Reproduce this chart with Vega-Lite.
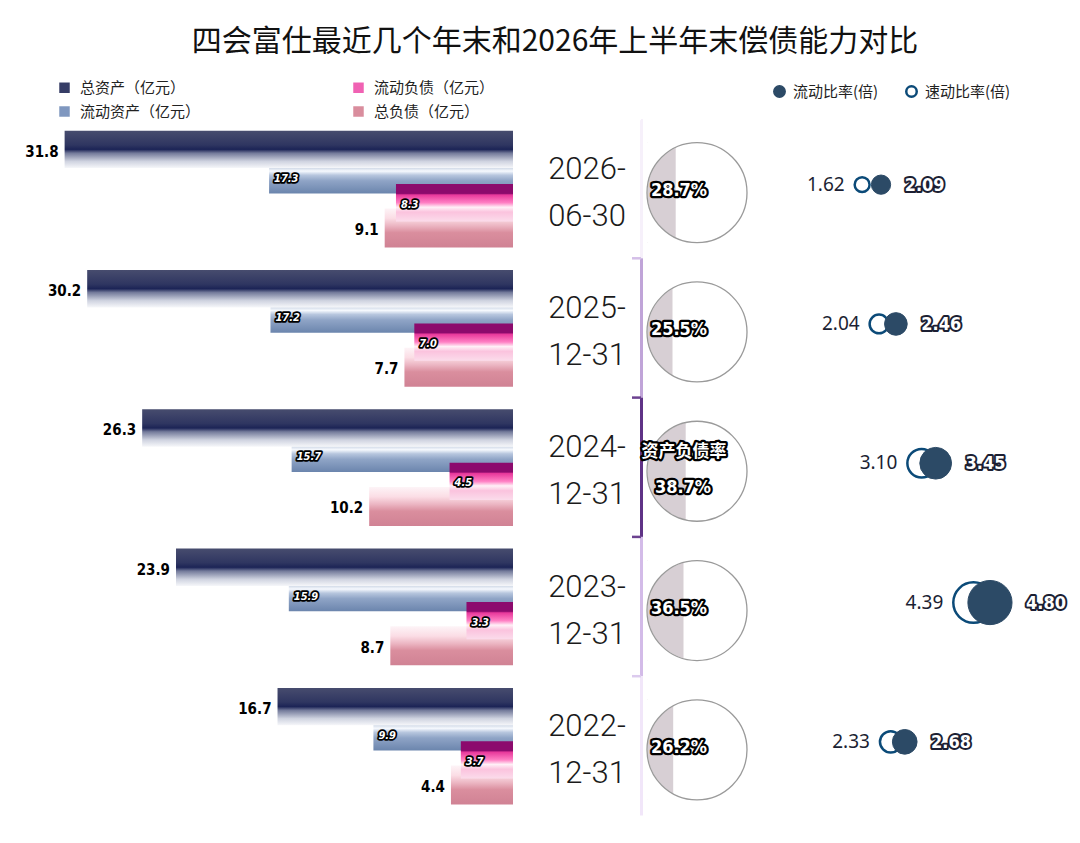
{
  "$schema": "https://vega.github.io/schema/vega-lite/v6.json",
  "width": 1080,
  "height": 843,
  "padding": 0,
  "autosize": {"type": "none"},
  "background": "white",
  "config": {"view": {"stroke": null}},
  "title": {"text": "四会富仕最近几个年末和2026年上半年末偿债能力对比", "font": "Noto Sans CJK SC", "fontSize": 30, "fontWeight": "normal", "color": "#111111", "anchor": "middle", "dx": 15, "dy": 57, "offset": 0},
  "data": {"values": [
    {"period": "2026-06-30", "date_label": "2026-\n06-30", "total_assets": 31.8, "current_assets": 17.3, "current_liab": 8.3, "total_liab": 9.1, "debt_ratio": 0.287, "current_ratio": 2.09, "quick_ratio": 1.62},
    {"period": "2025-12-31", "date_label": "2025-\n12-31", "total_assets": 30.2, "current_assets": 17.2, "current_liab": 7.0, "total_liab": 7.7, "debt_ratio": 0.255, "current_ratio": 2.46, "quick_ratio": 2.04},
    {"period": "2024-12-31", "date_label": "2024-\n12-31", "total_assets": 26.3, "current_assets": 15.7, "current_liab": 4.5, "total_liab": 10.2, "debt_ratio": 0.387, "current_ratio": 3.45, "quick_ratio": 3.10},
    {"period": "2023-12-31", "date_label": "2023-\n12-31", "total_assets": 23.9, "current_assets": 15.9, "current_liab": 3.3, "total_liab": 8.7, "debt_ratio": 0.365, "current_ratio": 4.80, "quick_ratio": 4.39},
    {"period": "2022-12-31", "date_label": "2022-\n12-31", "total_assets": 16.7, "current_assets": 9.9, "current_liab": 3.7, "total_liab": 4.4, "debt_ratio": 0.262, "current_ratio": 2.68, "quick_ratio": 2.33}
  ]},
  "resolve": {"scale": {"x": "independent", "fill": "independent", "stroke": "independent"}},
  "layer": [
    {
      "data": {"values": [{"s": "总资产（亿元）"}, {"s": "流动资产（亿元）"}, {"s": "流动负债（亿元）"}, {"s": "总负债（亿元）"}]},
      "mark": {"type": "square", "opacity": 0},
      "encoding": {
        "color": {"field": "s", "type": "nominal", "sort": null,
          "scale": {"domain": ["总资产（亿元）", "流动资产（亿元）", "流动负债（亿元）", "总负债（亿元）"], "range": ["#363d66", "#7f97bf", "#f062b3", "#d98d9d"]},
          "legend": {"title": null, "orient": "none", "legendX": 57, "legendY": 80, "columns": 2, "columnPadding": 150, "rowPadding": 8, "symbolType": "square", "symbolSize": 110, "symbolOpacity": 1, "labelFont": "Noto Sans CJK SC", "labelFontSize": 15, "labelColor": "#222222", "labelOffset": 8, "labelLimit": 300}
        }
      }
    },
    {
      "mark": {"type": "bar", "height": 37.4, "yOffset": -39.25, "color": {"gradient": "linear", "x1": 0, "y1": 0, "x2": 0, "y2": 1, "stops": [{"offset": 0, "color": "#474c6e"}, {"offset": 0.38, "color": "#2f3661"}, {"offset": 0.5, "color": "#1c2456"}, {"offset": 0.6, "color": "#737a9a"}, {"offset": 0.82, "color": "#cfd3e0"}, {"offset": 1, "color": "#f6f7fa"}]}},
      "encoding": {
        "x": {"field": "total_assets", "type": "quantitative", "scale": {"domain": [0, 30], "range": [513, 90], "zero": false, "nice": false}, "axis": null},
        "x2": {"datum": 0},
        "y": {"field": "period", "type": "nominal", "sort": null, "axis": null, "scale": {"type": "band", "domain": ["2026-06-30", "2025-12-31", "2024-12-31", "2023-12-31", "2022-12-31"], "range": [119, 815.5], "paddingInner": 0, "paddingOuter": 0}}
      }
    },
    {
      "mark": {"type": "bar", "height": 25.3, "yOffset": -7.9, "color": {"gradient": "linear", "x1": 0, "y1": 0, "x2": 0, "y2": 1, "stops": [{"offset": 0, "color": "#d3dbe8"}, {"offset": 0.12, "color": "#f6f9fe"}, {"offset": 0.28, "color": "#b7c6de"}, {"offset": 0.5, "color": "#8fa4c6"}, {"offset": 1, "color": "#6b85ad"}]}},
      "encoding": {
        "x": {"field": "current_assets", "type": "quantitative", "scale": {"domain": [0, 30], "range": [513, 90], "zero": false, "nice": false}, "axis": null},
        "x2": {"datum": 0},
        "y": {"field": "period", "type": "nominal", "sort": null, "axis": null, "scale": {"type": "band", "domain": ["2026-06-30", "2025-12-31", "2024-12-31", "2023-12-31", "2022-12-31"], "range": [119, 815.5], "paddingInner": 0, "paddingOuter": 0}}
      }
    },
    {
      "mark": {"type": "bar", "height": 39, "yOffset": 39.25, "color": {"gradient": "linear", "x1": 0, "y1": 0, "x2": 0, "y2": 1, "stops": [{"offset": 0, "color": "#fdf4f7"}, {"offset": 0.25, "color": "#fbdde5"}, {"offset": 0.45, "color": "#ebb4c1"}, {"offset": 0.62, "color": "#da8e9e"}, {"offset": 1, "color": "#d08294"}]}},
      "encoding": {
        "x": {"field": "total_liab", "type": "quantitative", "scale": {"domain": [0, 30], "range": [513, 90], "zero": false, "nice": false}, "axis": null},
        "x2": {"datum": 0},
        "y": {"field": "period", "type": "nominal", "sort": null, "axis": null, "scale": {"type": "band", "domain": ["2026-06-30", "2025-12-31", "2024-12-31", "2023-12-31", "2022-12-31"], "range": [119, 815.5], "paddingInner": 0, "paddingOuter": 0}}
      }
    },
    {
      "mark": {"type": "bar", "height": 37.3, "yOffset": 14.1, "color": {"gradient": "linear", "x1": 0, "y1": 0, "x2": 0, "y2": 1, "stops": [{"offset": 0, "color": "#8c0a6d"}, {"offset": 0.25, "color": "#8c0a6d"}, {"offset": 0.29, "color": "#e8389b"}, {"offset": 0.5, "color": "#ff80c4"}, {"offset": 0.62, "color": "#fff0f7"}, {"offset": 0.75, "color": "#fbc3de"}, {"offset": 1, "color": "#fbdceb"}]}},
      "encoding": {
        "x": {"field": "current_liab", "type": "quantitative", "scale": {"domain": [0, 30], "range": [513, 90], "zero": false, "nice": false}, "axis": null},
        "x2": {"datum": 0},
        "y": {"field": "period", "type": "nominal", "sort": null, "axis": null, "scale": {"type": "band", "domain": ["2026-06-30", "2025-12-31", "2024-12-31", "2023-12-31", "2022-12-31"], "range": [119, 815.5], "paddingInner": 0, "paddingOuter": 0}}
      }
    },
    {
      "mark": {"type": "text", "align": "right", "baseline": "middle", "dx": -6, "yOffset": -37, "font": "DejaVu Sans Condensed, sans-serif", "fontWeight": "bold", "fontSize": 15, "color": "#000000"},
      "encoding": {
        "x": {"field": "total_assets", "type": "quantitative", "scale": {"domain": [0, 30], "range": [513, 90], "zero": false, "nice": false}, "axis": null},
        "y": {"field": "period", "type": "nominal", "sort": null, "axis": null, "scale": {"type": "band", "domain": ["2026-06-30", "2025-12-31", "2024-12-31", "2023-12-31", "2022-12-31"], "range": [119, 815.5], "paddingInner": 0, "paddingOuter": 0}},
        "text": {"field": "total_assets", "type": "quantitative", "format": ".1f"}
      }
    },
    {
      "mark": {"type": "text", "align": "right", "baseline": "middle", "dx": -6, "yOffset": 41, "font": "DejaVu Sans Condensed, sans-serif", "fontWeight": "bold", "fontSize": 15, "color": "#000000"},
      "encoding": {
        "x": {"field": "total_liab", "type": "quantitative", "scale": {"domain": [0, 30], "range": [513, 90], "zero": false, "nice": false}, "axis": null},
        "y": {"field": "period", "type": "nominal", "sort": null, "axis": null, "scale": {"type": "band", "domain": ["2026-06-30", "2025-12-31", "2024-12-31", "2023-12-31", "2022-12-31"], "range": [119, 815.5], "paddingInner": 0, "paddingOuter": 0}},
        "text": {"field": "total_liab", "type": "quantitative", "format": ".1f"}
      }
    },
    {
      "mark": {"type": "text", "align": "left", "baseline": "middle", "dx": 5, "yOffset": -10, "font": "DejaVu Sans Condensed, sans-serif", "fontStyle": "italic", "fontWeight": "bold", "fontSize": 11, "fill": "#000000", "stroke": "#000000", "strokeWidth": 3.5, "strokeJoin": "round"},
      "encoding": {
        "x": {"field": "current_assets", "type": "quantitative", "scale": {"domain": [0, 30], "range": [513, 90], "zero": false, "nice": false}, "axis": null},
        "y": {"field": "period", "type": "nominal", "sort": null, "axis": null, "scale": {"type": "band", "domain": ["2026-06-30", "2025-12-31", "2024-12-31", "2023-12-31", "2022-12-31"], "range": [119, 815.5], "paddingInner": 0, "paddingOuter": 0}},
        "text": {"field": "current_assets", "type": "quantitative", "format": ".1f"}
      }
    },
    {
      "mark": {"type": "text", "align": "left", "baseline": "middle", "dx": 5, "yOffset": -10, "font": "DejaVu Sans Condensed, sans-serif", "fontStyle": "italic", "fontWeight": "bold", "fontSize": 11, "fill": "#ffffff"},
      "encoding": {
        "x": {"field": "current_assets", "type": "quantitative", "scale": {"domain": [0, 30], "range": [513, 90], "zero": false, "nice": false}, "axis": null},
        "y": {"field": "period", "type": "nominal", "sort": null, "axis": null, "scale": {"type": "band", "domain": ["2026-06-30", "2025-12-31", "2024-12-31", "2023-12-31", "2022-12-31"], "range": [119, 815.5], "paddingInner": 0, "paddingOuter": 0}},
        "text": {"field": "current_assets", "type": "quantitative", "format": ".1f"}
      }
    },
    {
      "mark": {"type": "text", "align": "left", "baseline": "middle", "dx": 5, "yOffset": 16, "font": "DejaVu Sans Condensed, sans-serif", "fontStyle": "italic", "fontWeight": "bold", "fontSize": 11, "fill": "#000000", "stroke": "#000000", "strokeWidth": 3.5, "strokeJoin": "round"},
      "encoding": {
        "x": {"field": "current_liab", "type": "quantitative", "scale": {"domain": [0, 30], "range": [513, 90], "zero": false, "nice": false}, "axis": null},
        "y": {"field": "period", "type": "nominal", "sort": null, "axis": null, "scale": {"type": "band", "domain": ["2026-06-30", "2025-12-31", "2024-12-31", "2023-12-31", "2022-12-31"], "range": [119, 815.5], "paddingInner": 0, "paddingOuter": 0}},
        "text": {"field": "current_liab", "type": "quantitative", "format": ".1f"}
      }
    },
    {
      "mark": {"type": "text", "align": "left", "baseline": "middle", "dx": 5, "yOffset": 16, "font": "DejaVu Sans Condensed, sans-serif", "fontStyle": "italic", "fontWeight": "bold", "fontSize": 11, "fill": "#ffffff"},
      "encoding": {
        "x": {"field": "current_liab", "type": "quantitative", "scale": {"domain": [0, 30], "range": [513, 90], "zero": false, "nice": false}, "axis": null},
        "y": {"field": "period", "type": "nominal", "sort": null, "axis": null, "scale": {"type": "band", "domain": ["2026-06-30", "2025-12-31", "2024-12-31", "2023-12-31", "2022-12-31"], "range": [119, 815.5], "paddingInner": 0, "paddingOuter": 0}},
        "text": {"field": "current_liab", "type": "quantitative", "format": ".1f"}
      }
    },
    {
      "mark": {"type": "bar", "height": 100, "yOffset": 4, "color": "#d7cfd4"},
      "encoding": {
        "x": {"field": "debt_ratio", "type": "quantitative", "scale": {"domain": [0, 1], "range": [647, 747], "zero": false, "nice": false}, "axis": null},
        "x2": {"datum": 0},
        "y": {"field": "period", "type": "nominal", "sort": null, "axis": null, "scale": {"type": "band", "domain": ["2026-06-30", "2025-12-31", "2024-12-31", "2023-12-31", "2022-12-31"], "range": [119, 815.5], "paddingInner": 0, "paddingOuter": 0}}
      }
    },
    {
      "mark": {"type": "point", "shape": "circle", "filled": false, "size": 14400, "stroke": "#ffffff", "strokeWidth": 21, "opacity": 1, "yOffset": 4},
      "encoding": {
        "x": {"datum": 0.5, "type": "quantitative", "scale": {"domain": [0, 1], "range": [647, 747], "zero": false, "nice": false}, "axis": null},
        "y": {"field": "period", "type": "nominal", "sort": null, "axis": null, "scale": {"type": "band", "domain": ["2026-06-30", "2025-12-31", "2024-12-31", "2023-12-31", "2022-12-31"], "range": [119, 815.5], "paddingInner": 0, "paddingOuter": 0}}
      }
    },
    {
      "mark": {"type": "point", "shape": "circle", "filled": false, "size": 10000, "stroke": "#9a9a9a", "strokeWidth": 1.3, "opacity": 1, "yOffset": 4},
      "encoding": {
        "x": {"datum": 0.5, "type": "quantitative", "scale": {"domain": [0, 1], "range": [647, 747], "zero": false, "nice": false}, "axis": null},
        "y": {"field": "period", "type": "nominal", "sort": null, "axis": null, "scale": {"type": "band", "domain": ["2026-06-30", "2025-12-31", "2024-12-31", "2023-12-31", "2022-12-31"], "range": [119, 815.5], "paddingInner": 0, "paddingOuter": 0}}
      }
    },
    {
      "mark": {"type": "text", "align": "center", "baseline": "middle", "yOffset": -19, "lineBreak": "\n", "lineHeight": 47, "font": "Roboto", "fontWeight": 300, "fontSize": 31, "color": "#1a1a1a"},
      "encoding": {
        "x": {"datum": 0.5, "type": "quantitative", "scale": {"domain": [0, 1], "range": [540, 634], "zero": false, "nice": false}, "axis": null},
        "y": {"field": "period", "type": "nominal", "sort": null, "axis": null, "scale": {"type": "band", "domain": ["2026-06-30", "2025-12-31", "2024-12-31", "2023-12-31", "2022-12-31"], "range": [119, 815.5], "paddingInner": 0, "paddingOuter": 0}},
        "text": {"field": "date_label", "type": "nominal"}
      }
    },
    {
      "mark": {"type": "bar"},
      "encoding": {
        "x": {"datum": 0, "type": "quantitative", "scale": {"domain": [0, 1], "range": [640, 643], "zero": false, "nice": false}, "axis": null},
        "x2": {"datum": 1},
        "y": {"field": "period", "type": "nominal", "sort": null, "axis": null, "scale": {"type": "band", "domain": ["2026-06-30", "2025-12-31", "2024-12-31", "2023-12-31", "2022-12-31"], "range": [119, 815.5], "paddingInner": 0, "paddingOuter": 0}},
        "fill": {"field": "period", "type": "nominal", "sort": null, "scale": {"domain": ["2026-06-30", "2025-12-31", "2024-12-31", "2023-12-31", "2022-12-31"], "range": ["#f6f0fa", "#c0a4d8", "#5f3286", "#d3bbe8", "#f1e6f9"]}, "legend": null}
      }
    },
    {
      "mark": {"type": "rule", "strokeWidth": 2.5},
      "encoding": {
        "x": {"datum": 0, "type": "quantitative", "scale": {"domain": [0, 1], "range": [632, 641], "zero": false, "nice": false}, "axis": null},
        "x2": {"datum": 1},
        "y": {"field": "period", "type": "nominal", "sort": null, "bandPosition": 0, "axis": null, "scale": {"type": "band", "domain": ["2026-06-30", "2025-12-31", "2024-12-31", "2023-12-31", "2022-12-31"], "range": [119, 815.5], "paddingInner": 0, "paddingOuter": 0}},
        "stroke": {"field": "period", "type": "nominal", "sort": null, "scale": {"domain": ["2026-06-30", "2025-12-31", "2024-12-31", "2023-12-31", "2022-12-31"], "range": ["#ffffff", "#d4bfe8", "#6c4290", "#6c4290", "#dccbee"]}, "legend": null}
      }
    },
    {
      "transform": [{"filter": "datum.period !== '2024-12-31'"}],
      "mark": {"type": "text", "align": "center", "baseline": "middle", "yOffset": 2, "font": "DejaVu Sans Condensed, sans-serif", "fontWeight": "bold", "fontSize": 18, "fill": "#000000", "stroke": "#000000", "strokeWidth": 4.5, "strokeJoin": "round"},
      "encoding": {
        "x": {"datum": 0.32, "type": "quantitative", "scale": {"domain": [0, 1], "range": [647, 747], "zero": false, "nice": false}, "axis": null},
        "y": {"field": "period", "type": "nominal", "sort": null, "axis": null, "scale": {"type": "band", "domain": ["2026-06-30", "2025-12-31", "2024-12-31", "2023-12-31", "2022-12-31"], "range": [119, 815.5], "paddingInner": 0, "paddingOuter": 0}},
        "text": {"field": "debt_ratio", "type": "quantitative", "format": ".1%"}
      }
    },
    {
      "transform": [{"filter": "datum.period !== '2024-12-31'"}],
      "mark": {"type": "text", "align": "center", "baseline": "middle", "yOffset": 2, "font": "DejaVu Sans Condensed, sans-serif", "fontWeight": "bold", "fontSize": 18, "fill": "#ffffff"},
      "encoding": {
        "x": {"datum": 0.32, "type": "quantitative", "scale": {"domain": [0, 1], "range": [647, 747], "zero": false, "nice": false}, "axis": null},
        "y": {"field": "period", "type": "nominal", "sort": null, "axis": null, "scale": {"type": "band", "domain": ["2026-06-30", "2025-12-31", "2024-12-31", "2023-12-31", "2022-12-31"], "range": [119, 815.5], "paddingInner": 0, "paddingOuter": 0}},
        "text": {"field": "debt_ratio", "type": "quantitative", "format": ".1%"}
      }
    },
    {
      "transform": [{"filter": "datum.period === '2024-12-31'"}],
      "mark": {"type": "text", "align": "center", "baseline": "middle", "yOffset": 21, "font": "DejaVu Sans Condensed, sans-serif", "fontWeight": "bold", "fontSize": 18, "fill": "#000000", "stroke": "#000000", "strokeWidth": 4.5, "strokeJoin": "round"},
      "encoding": {
        "x": {"datum": 0.36, "type": "quantitative", "scale": {"domain": [0, 1], "range": [647, 747], "zero": false, "nice": false}, "axis": null},
        "y": {"field": "period", "type": "nominal", "sort": null, "axis": null, "scale": {"type": "band", "domain": ["2026-06-30", "2025-12-31", "2024-12-31", "2023-12-31", "2022-12-31"], "range": [119, 815.5], "paddingInner": 0, "paddingOuter": 0}},
        "text": {"field": "debt_ratio", "type": "quantitative", "format": ".1%"}
      }
    },
    {
      "transform": [{"filter": "datum.period === '2024-12-31'"}],
      "mark": {"type": "text", "align": "center", "baseline": "middle", "yOffset": 21, "font": "DejaVu Sans Condensed, sans-serif", "fontWeight": "bold", "fontSize": 18, "fill": "#ffffff"},
      "encoding": {
        "x": {"datum": 0.36, "type": "quantitative", "scale": {"domain": [0, 1], "range": [647, 747], "zero": false, "nice": false}, "axis": null},
        "y": {"field": "period", "type": "nominal", "sort": null, "axis": null, "scale": {"type": "band", "domain": ["2026-06-30", "2025-12-31", "2024-12-31", "2023-12-31", "2022-12-31"], "range": [119, 815.5], "paddingInner": 0, "paddingOuter": 0}},
        "text": {"field": "debt_ratio", "type": "quantitative", "format": ".1%"}
      }
    },
    {
      "transform": [{"filter": "datum.period === '2024-12-31'"}],
      "mark": {"type": "text", "align": "center", "baseline": "middle", "yOffset": -15, "font": "Noto Sans CJK SC", "fontWeight": "bold", "fontSize": 17, "fill": "#000000", "stroke": "#000000", "strokeWidth": 4.5, "strokeJoin": "round"},
      "encoding": {
        "x": {"datum": 0.37, "type": "quantitative", "scale": {"domain": [0, 1], "range": [647, 747], "zero": false, "nice": false}, "axis": null},
        "y": {"field": "period", "type": "nominal", "sort": null, "axis": null, "scale": {"type": "band", "domain": ["2026-06-30", "2025-12-31", "2024-12-31", "2023-12-31", "2022-12-31"], "range": [119, 815.5], "paddingInner": 0, "paddingOuter": 0}},
        "text": {"datum": "资产负债率"}
      }
    },
    {
      "transform": [{"filter": "datum.period === '2024-12-31'"}],
      "mark": {"type": "text", "align": "center", "baseline": "middle", "yOffset": -15, "font": "Noto Sans CJK SC", "fontWeight": "bold", "fontSize": 17, "fill": "#ffffff"},
      "encoding": {
        "x": {"datum": 0.37, "type": "quantitative", "scale": {"domain": [0, 1], "range": [647, 747], "zero": false, "nice": false}, "axis": null},
        "y": {"field": "period", "type": "nominal", "sort": null, "axis": null, "scale": {"type": "band", "domain": ["2026-06-30", "2025-12-31", "2024-12-31", "2023-12-31", "2022-12-31"], "range": [119, 815.5], "paddingInner": 0, "paddingOuter": 0}},
        "text": {"datum": "资产负债率"}
      }
    },
    {
      "mark": {"type": "point", "shape": "circle", "filled": false, "strokeWidth": 2.5, "opacity": 1, "yOffset": -4},
      "encoding": {
        "x": {"field": "quick_ratio", "type": "quantitative", "scale": {"domain": [0, 5], "range": [797, 998], "zero": false, "nice": false}, "axis": null},
        "y": {"field": "period", "type": "nominal", "sort": null, "axis": null, "scale": {"type": "band", "domain": ["2026-06-30", "2025-12-31", "2024-12-31", "2023-12-31", "2022-12-31"], "range": [119, 815.5], "paddingInner": 0, "paddingOuter": 0}},
        "size": {"field": "quick_ratio", "type": "quantitative", "scale": {"type": "pow", "exponent": 2, "domain": [0, 5], "range": [0, 2116], "zero": true}, "legend": null},
        "stroke": {"datum": "速动比率(倍)", "scale": {"domain": ["速动比率(倍)"], "range": ["#0b4a78"]},
          "legend": {"title": null, "orient": "none", "legendX": 904, "legendY": 84, "symbolType": "circle", "symbolSize": 110, "symbolStrokeWidth": 2.5, "symbolOpacity": 1, "labelFont": "Noto Sans CJK SC", "labelFontSize": 15, "labelColor": "#222222", "labelOffset": 6, "labelLimit": 300}}
      }
    },
    {
      "mark": {"type": "point", "shape": "circle", "filled": true, "stroke": "#2c4a66", "strokeWidth": 1, "opacity": 1, "yOffset": -4},
      "encoding": {
        "x": {"field": "current_ratio", "type": "quantitative", "scale": {"domain": [0, 5], "range": [797, 998], "zero": false, "nice": false}, "axis": null},
        "y": {"field": "period", "type": "nominal", "sort": null, "axis": null, "scale": {"type": "band", "domain": ["2026-06-30", "2025-12-31", "2024-12-31", "2023-12-31", "2022-12-31"], "range": [119, 815.5], "paddingInner": 0, "paddingOuter": 0}},
        "size": {"field": "current_ratio", "type": "quantitative", "scale": {"type": "pow", "exponent": 2, "domain": [0, 5], "range": [0, 2116], "zero": true}, "legend": null},
        "fill": {"datum": "流动比率(倍)", "scale": {"domain": ["流动比率(倍)"], "range": ["#2c4a66"]},
          "legend": {"title": null, "orient": "none", "legendX": 772, "legendY": 84, "symbolType": "circle", "symbolSize": 130, "symbolOpacity": 1, "labelFont": "Noto Sans CJK SC", "labelFontSize": 15, "labelColor": "#222222", "labelOffset": 6, "labelLimit": 300}}
      }
    },
    {
      "mark": {"type": "text", "align": "right", "baseline": "middle", "yOffset": -4, "font": "Noto Sans", "fontSize": 19, "color": "#1c1f33"},
      "encoding": {
        "x": {"field": "quick_ratio", "type": "quantitative", "scale": {"domain": [0, 5], "range": [787, 965], "zero": false, "nice": false}, "axis": null},
        "y": {"field": "period", "type": "nominal", "sort": null, "axis": null, "scale": {"type": "band", "domain": ["2026-06-30", "2025-12-31", "2024-12-31", "2023-12-31", "2022-12-31"], "range": [119, 815.5], "paddingInner": 0, "paddingOuter": 0}},
        "text": {"field": "quick_ratio", "type": "quantitative", "format": ".2f"}
      }
    },
    {
      "mark": {"type": "text", "align": "left", "baseline": "middle", "yOffset": -3, "font": "DejaVu Sans Condensed, sans-serif", "fontWeight": "bold", "fontSize": 18, "fill": "#1c1f33", "stroke": "#1c1f33", "strokeWidth": 4, "strokeJoin": "round"},
      "encoding": {
        "x": {"field": "current_ratio", "type": "quantitative", "scale": {"domain": [0, 5], "range": [811, 1035], "zero": false, "nice": false}, "axis": null},
        "y": {"field": "period", "type": "nominal", "sort": null, "axis": null, "scale": {"type": "band", "domain": ["2026-06-30", "2025-12-31", "2024-12-31", "2023-12-31", "2022-12-31"], "range": [119, 815.5], "paddingInner": 0, "paddingOuter": 0}},
        "text": {"field": "current_ratio", "type": "quantitative", "format": ".2f"}
      }
    },
    {
      "mark": {"type": "text", "align": "left", "baseline": "middle", "yOffset": -3, "font": "DejaVu Sans Condensed, sans-serif", "fontWeight": "bold", "fontSize": 18, "fill": "#ffffff"},
      "encoding": {
        "x": {"field": "current_ratio", "type": "quantitative", "scale": {"domain": [0, 5], "range": [811, 1035], "zero": false, "nice": false}, "axis": null},
        "y": {"field": "period", "type": "nominal", "sort": null, "axis": null, "scale": {"type": "band", "domain": ["2026-06-30", "2025-12-31", "2024-12-31", "2023-12-31", "2022-12-31"], "range": [119, 815.5], "paddingInner": 0, "paddingOuter": 0}},
        "text": {"field": "current_ratio", "type": "quantitative", "format": ".2f"}
      }
    }
  ]
}
